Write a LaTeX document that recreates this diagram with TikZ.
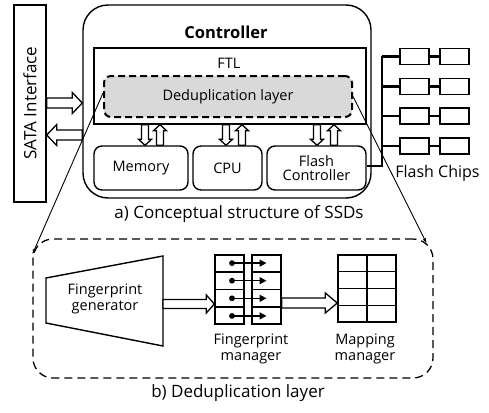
\documentclass[tikz,border=0pt]{standalone}
\usepackage{fontspec}
\setmainfont{Open Sans}
\usetikzlibrary{calc,arrows.meta}
\newcommand\hollowarr[5]{% from, to, shaft half, head half, head length (numbers, pt)
  \draw[fatarr] let \p1=(#1), \p2=(#2), \n1={atan2(\y2-\y1,\x2-\x1)}, \n2={veclen(\x2-\x1,\y2-\y1)} in
    [shift={(\p1)}, rotate=\n1]
    (0pt,{#3*1pt}) -- ({(\n2-#5)*1pt},{#3*1pt}) -- ({(\n2-#5)*1pt},{#4*1pt}) -- ({\n2*1pt},0pt)
    -- ({(\n2-#5)*1pt},{-#4*1pt}) -- ({(\n2-#5)*1pt},{-#3*1pt}) -- (0pt,{-#3*1pt}) -- cycle;}
\begin{document}
\begin{tikzpicture}[x=1pt,y=-1pt,
  line join=miter,
  bx/.style={draw, line width=1.4pt, inner sep=0pt},
  rbox/.style={bx, rounded corners=8pt, font=\fontsize{14.5}{16.5}\selectfont, align=center},
  fatarr/.style={draw, fill=white, line width=1.3pt, line join=miter},
  busline/.style={line width=2.7pt},
  chipbox/.style={bx, minimum width=29pt, minimum height=16pt},
  lbl/.style={font=\fontsize{14.5}{17.5}\selectfont, align=center, inner sep=0pt},
  captxt/.style={font=\fontsize{17}{19}\selectfont, inner sep=0pt},
  tblline/.style={line width=1.4pt},
  zoomline/.style={line width=0.9pt, -{Latex[length=5pt,width=3.5pt]}}
]
\useasboundingbox (0,0) rectangle (489,412);

% SATA interface
\node[bx, minimum width=32pt, minimum height=197pt] (sata) at (30,103.5) {};
\node[captxt, rotate=90] (satatxt) at (30,103) {SATA Interface};

% Controller
\node[bx, rounded corners=25pt, minimum width=288pt, minimum height=193pt] (ctrl) at (227,101.5) {};
\node[font=\fontsize{16.5}{19}\selectfont\bfseries, inner sep=0pt] (ctrltxt) at (226,32) {Controller};
\node[bx, minimum width=272pt, minimum height=76pt] (ftl) at (230,86) {};
\node[lbl] (ftltxt) at (229,63) {FTL};
\node[bx, rounded corners=7pt, line width=2pt, dash pattern=on 7pt off 4pt,
      fill=black!15, minimum width=248pt, minimum height=41pt] (dedup) at (228,96.5) {};
\node[lbl] (deduptxt) at (228,97) {Deduplication layer};

\node[rbox, minimum width=94pt, minimum height=44pt] (mem) at (141,168) {Memory};
\node[rbox, minimum width=69pt, minimum height=44pt] (cpu) at (227.5,168) {CPU};
\node[rbox, minimum width=99pt, minimum height=44pt] (fc) at (316.5,168) {Flash\\[-2pt]Controller};

% vertical hollow arrows
\foreach \xd/\xu/\nm in {145/160/mem, 226/242/cpu, 317/334/fc}{
  \hollowarr{\xd,0 |- ftl.south}{\xd,0 |- \nm.north}{3.5}{6.5}{6}
  \hollowarr{\xu,0 |- \nm.north}{\xu,0 |- ftl.south}{3.5}{6.5}{6}
}

% SATA arrows
\hollowarr{sata.east |- 0,103}{ctrl.west |- 0,103}{5}{10.5}{10}
\hollowarr{ctrl.west |- 0,135}{sata.east |- 0,135}{5}{10.5}{10}

% Flash chips
\coordinate (bus) at (382,166);
\draw[busline] (fc.east |- bus) -- (bus) -- (382,56.3);
\foreach \i/\y in {1/56.3, 2/86.2, 3/116.1, 4/146}{
  \node[chipbox] (ca\i) at (414.5,\y) {};
  \node[chipbox] (cb\i) at (454.5,\y) {};
  \draw[busline] (382,\y) -- (ca\i.west);
  \draw[busline] (ca\i.east) -- (cb\i.west);
}
\node[captxt, font=\fontsize{16}{19}\selectfont] (chipstxt) at (437.5,173) {Flash Chips};

% caption a
\node[captxt] (capa) at (239,214) {a) Conceptual structure of SSDs};

% dedup detail box
\node[bx, line width=1.3pt, rounded corners=20pt, dash pattern=on 8pt off 5pt, minimum width=400pt, minimum height=139pt] (dbox) at (233,308.5) {};
\coordinate (zl) at ($(dbox.north west)+(0,16)$);
\coordinate (zr) at ($(dbox.north east)+(-7,5)$);
\draw[zoomline] ($(dedup.west)+(0,-3.5)$) -- (zl);
\draw[zoomline] (dedup.east) -- (zr);

% fingerprint generator
\draw[line width=1.4pt] (46,278) -- (163,256) -- (163,346) -- (46,323) -- cycle;
\coordinate (fpgR) at (163,304);
\node[lbl] (fpg) at (105,299) {Fingerprint\\[-1pt]generator};

% fingerprint manager tables
\node[bx, minimum width=29pt, minimum height=69pt] (fpL) at (229.5,289.5) {};
\node[bx, minimum width=29pt, minimum height=69pt] (fpR) at (266.5,289.5) {};
\foreach \i in {1,2,3}{
  \draw[tblline] ($(fpL.north west)!\i/4!(fpL.south west)$) -- ($(fpL.north east)!\i/4!(fpL.south east)$);
  \draw[tblline] ($(fpR.north west)!\i/4!(fpR.south west)$) -- ($(fpR.north east)!\i/4!(fpR.south east)$);
}
\foreach \i in {1,...,4}{
  \coordinate (d\i) at ($(fpL.north)!{(\i-0.5)/4}!(fpL.south)+(2.5,0)$);
  \coordinate (t\i) at ($(fpR.north)!{(\i-0.5)/4}!(fpR.south)$);
  \fill (d\i) circle (2.9pt);
  \draw[line width=1.5pt, -{Triangle[length=7pt,width=7pt]}] (d\i) -- (t\i);
}
\node[lbl] (fpmtxt) at (251,349) {Fingerprint\\[-1pt]manager};

% mapping manager table
\node[bx, minimum width=58pt, minimum height=67pt] (map) at (367,288.5) {};
\draw[tblline] (map.north) -- (map.south);
\foreach \i in {1,2,3}{
  \draw[tblline] ($(map.north west)!\i/4!(map.south west)$) -- ($(map.north east)!\i/4!(map.south east)$);
}
\node[lbl] (maptxt) at (365,349) {Mapping\\[-1pt]manager};

% arrows inside detail box
\hollowarr{fpgR}{fpL.west |- fpgR}{4.5}{9}{8}
\hollowarr{fpR.east |- 0,303}{map.west |- 0,303}{5}{10}{12}

% caption b
\node[captxt] (capb) at (238,393) {b) Deduplication layer};
\end{tikzpicture}
\end{document}
